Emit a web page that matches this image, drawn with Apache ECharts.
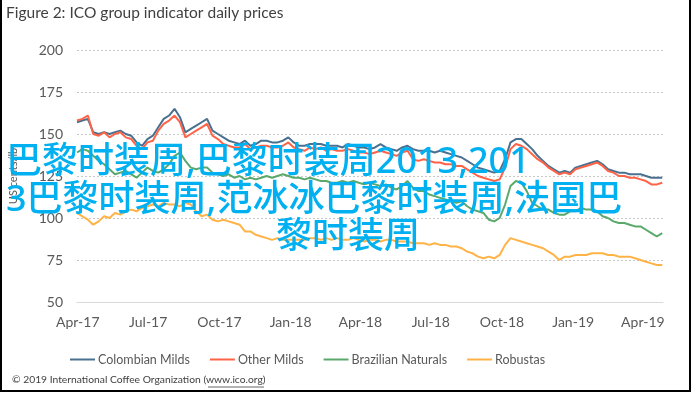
<!DOCTYPE html>
<html>
<head>
<meta charset="utf-8">
<script src="https://cdn.jsdelivr.net/npm/echarts@6/dist/echarts.min.js"></script>
<style>
html,body{margin:0;padding:0;background:#fff;}
#chart{width:695px;height:394px;}
</style>
</head>
<body>
<div id="chart"></div>
<script>
// ---- data (weekly samples) ----
const startDate = '2017-03-31';
const stepDays = 7;
const seriesNames = ['Colombian Milds', 'Other Milds', 'Brazilian Naturals', 'Robustas'];
const colombianMilds = [157,158,159,151,150,151,150,151,152,150,149,145,143,147,149,154,159,161,165,160,
  151,153,155,157,159,152,150,148,146,145,144,146,143,144,146,146,145,145,146,148,
  145,143,143,144,144,144,143,143,143,142,144,143,142,142,141,142,144,142,141,140,
  142,143,141,140,140,140,139,140,139,138,137,136,134,132,130,129,128,127,128,135,
  145,147,147,144,141,137,134,131,129,127,128,127,130,131,132,133,134,132,129,128,
  127,127,126,126,126,125,124,124,124];
const otherMilds = [158,159,161,150,149,151,148,150,151,148,147,143,141,145,146,152,156,158,161,157,
  148,150,152,154,156,149,147,144,143,142,142,144,141,142,143,143,142,142,143,145,
  142,141,140,142,141,142,140,141,140,140,141,140,139,139,138,139,140,139,138,137,
  139,140,135,134,135,134,133,133,132,132,131,131,129,127,125,124,123,122,123,130,
  141,144,143,141,138,135,133,130,128,126,127,126,129,130,131,132,133,131,128,127,
  125,125,124,124,123,122,120,120,121];
const brazilianNaturals = [139,141,140,137,134,132,129,126,127,128,126,124,127,130,128,127,129,132,137,139,
  134,130,129,130,130,127,126,125,126,124,125,123,124,123,124,125,124,125,126,125,
  124,124,123,124,123,122,122,121,121,122,121,122,121,120,121,120,119,120,118,117,
  119,122,118,116,116,114,113,112,111,110,109,110,107,105,104,103,99,98,100,108,
  119,122,121,116,109,107,105,105,103,102,102,104,104,106,105,105,104,101,100,98,
  97,97,96,95,95,93,91,89,91];
const robustas = [103,101,99,96,98,101,100,103,102,104,105,104,106,107,108,107,109,108,108,107,
  109,108,104,101,102,99,98,99,98,97,96,92,92,90,89,88,87,88,87,87,
  87,87,87,88,88,87,88,87,88,87,87,88,87,86,87,87,86,87,87,86,
  86,86,85,85,85,84,85,84,84,83,83,82,80,79,77,76,77,76,78,84,
  88,87,86,85,84,83,82,80,78,75,77,77,78,78,78,79,79,79,78,78,
  77,77,77,76,75,74,73,72,72];
const tickDates = ['2017-04-01','2017-07-01','2017-10-01','2018-01-01','2018-04-01','2018-07-01','2018-10-01','2019-01-01','2019-04-01'];
const tickLabels = ['Apr-17','Jul-17','Oct-17','Jan-18','Apr-18','Jul-18','Oct-18','Jan-19','Apr-19'];
const yTicks = [50, 75, 100, 125, 150, 175, 200];
const axisStart = '2017-03-31';
const axisEnd = '2019-04-27';
const overlayLines = ['巴黎时装周,巴黎时装周2013,201', '3巴黎时装周,范冰冰巴黎时装周,法国巴', '黎时装周'];

// ---- helpers ----
function toMs(s){ const p = s.split('-').map(Number); return Date.UTC(p[0], p[1]-1, p[2]); }
const DAY = 86400000;
const dates = colombianMilds.map((_, i) => toMs(startDate) + i * stepDays * DAY);
const tickMs = tickDates.map(toMs);
const colors = ['#4a708f', '#ff6347', '#5aa96b', '#ffb347'];
const allValues = [colombianMilds, otherMilds, brazilianNaturals, robustas];
const overlayFont = '500 36px "Noto Sans", "Noto Sans CJK SC"';

const chart = echarts.init(document.getElementById('chart'), null, {renderer: 'canvas'});
const font = 'Lato';
chart.setOption({
  animation: false,
  backgroundColor: '#ffffff',
  grid: {left: 77, right: 32, top: 50, bottom: 92},
  xAxis: {
    type: 'value',
    min: toMs(axisStart),
    max: toMs(axisEnd),
    splitLine: {show: false},
    axisTick: {show: false},
    axisLine: {show: true, lineStyle: {color: '#d9d9d9', width: 1}},
    axisLabel: {
      customValues: tickMs,
      margin: 13,
      color: '#595959',
      fontFamily: font,
      fontSize: 14,
      formatter: function(v){
        let best = 0, bd = Infinity;
        tickMs.forEach((t, i) => { const d = Math.abs(t - v); if (d < bd) { bd = d; best = i; } });
        return tickLabels[best];
      }
    }
  },
  yAxis: {
    type: 'value',
    min: yTicks[0],
    max: yTicks[yTicks.length - 1],
    interval: 25,
    name: 'US cents/lb',
    nameLocation: 'middle',
    nameGap: 58,
    nameTextStyle: {color: '#595959', fontFamily: font, fontSize: 11},
    axisLine: {show: false},
    axisTick: {show: false},
    axisLabel: {color: '#595959', fontFamily: font, fontSize: 14, margin: 14},
    splitLine: {show: true, lineStyle: {color: '#c8c8c8', type: [2, 2], width: 1}}
  },
  legend: {
    left: 65,
    top: 348,
    itemWidth: 25,
    itemHeight: 12,
    itemGap: 20,
    textStyle: {color: '#595959', fontFamily: font, fontSize: 12.5, padding: [0, 0, 0, -2]},
    data: seriesNames.map(n => ({name: n, icon: 'path://M0,5 L25,5 L25,7 L0,7 Z'}))
  },
  series: seriesNames.map((n, si) => ({
    name: n,
    type: 'line',
    symbol: 'none',
    showSymbol: false,
    lineStyle: {color: colors[si], width: 2},
    itemStyle: {color: colors[si]},
    data: dates.map((d, i) => [d, allValues[si][i]])
  })),
  graphic: [
    {type: 'text', left: 6, top: 5, z: 10, style: {text: 'Figure 2: ICO group indicator daily prices', fill: '#404040', font: '15.5px Lato'}},
    {type: 'text', left: 12, top: 375, z: 10, style: {text: '© 2019 International Coffee Organization (www.ico.org)', fill: '#404040', font: '10.3px Lato'}},
    {type: 'line', z: 10, shape: {x1: 208, y1: 387, x2: 264, y2: 387}, style: {stroke: '#404040', lineWidth: 0.8}},
    {type: 'line', z: 10, shape: {x1: 1, y1: 0, x2: 1, y2: 392}, style: {stroke: '#000', lineWidth: 2}},
    {type: 'line', z: 10, shape: {x1: 690, y1: 0, x2: 690, y2: 392}, style: {stroke: '#000', lineWidth: 2}},
    {type: 'line', z: 10, shape: {x1: 0, y1: 391, x2: 691, y2: 391}, style: {stroke: '#000', lineWidth: 2}},
    {type: 'text', x: 6, y: 163, z: 100, style: {text: overlayLines[0], fill: '#00b0f0', font: overlayFont, verticalAlign: 'middle', align: 'left'}},
    {type: 'text', x: 6, y: 200.5, z: 100, style: {text: overlayLines[1], fill: '#00b0f0', font: overlayFont, verticalAlign: 'middle', align: 'left'}},
    {type: 'text', x: 276, y: 238, z: 100, style: {text: overlayLines[2], fill: '#00b0f0', font: overlayFont, verticalAlign: 'middle', align: 'left'}}
  ]
});
</script>
</body>
</html>
